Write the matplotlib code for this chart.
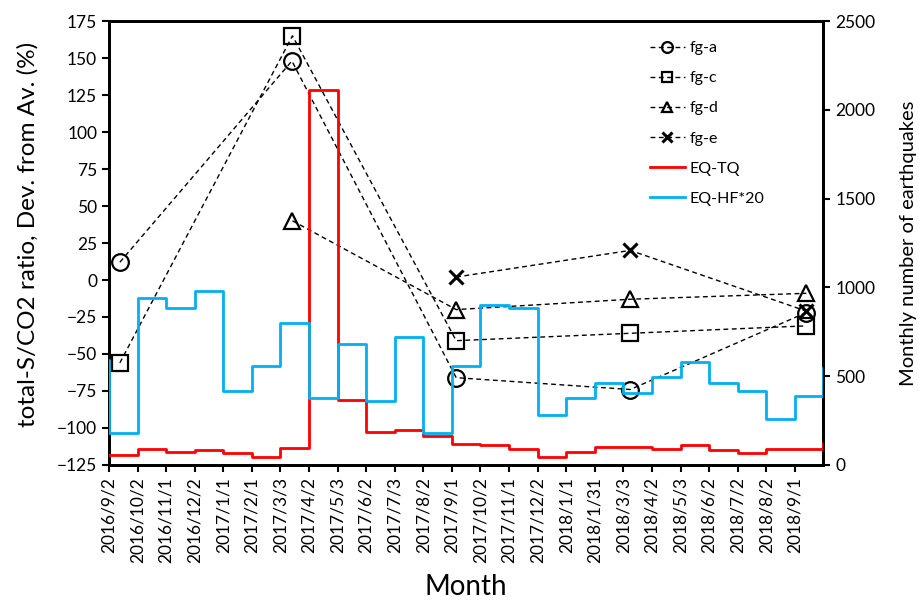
import numpy as np
import matplotlib
matplotlib.use("Agg")
import matplotlib.pyplot as plt

plt.rcParams['font.family'] = ['Lato', 'DejaVu Sans']

months = ["2016/9/2", "2016/10/2", "2016/11/1", "2016/12/2", "2017/1/1", "2017/2/1",
          "2017/3/3", "2017/4/2", "2017/5/3", "2017/6/2", "2017/7/3", "2017/8/2",
          "2017/9/1", "2017/10/2", "2017/11/1", "2017/12/2", "2018/1/1", "2018/1/31",
          "2018/3/3", "2018/4/2", "2018/5/3", "2018/6/2", "2018/7/2", "2018/8/2", "2018/9/1"]

# Monthly earthquake counts (right axis); values before/after the shown window are clipped
eq_tq_before = 56
eq_tq = [56, 88, 73, 84, 66, 43, 94, 2112, 366, 183, 195, 165, 119, 111, 88, 47,
         73, 103, 100, 92, 111, 84, 69, 88, 88]
eq_tq_after = 122
eq_hf20_before = 590
eq_hf20 = [178, 939, 882, 980, 418, 557, 798, 377, 680, 358, 721, 181, 559, 899, 886,
           280, 377, 460, 404, 497, 578, 460, 417, 259, 390]
eq_hf20_after = 545

# Sampling positions (in month units from 2016/9/2) and deviation values (left axis)
pos_a = [0.38, 6.4, 12.15, 18.24, 24.4]
fg_a = [12, 148, -66, -74, -22]
pos_c = [0.38, 6.42, 12.15, 18.24, 24.4]
fg_c = [-56, 165, -41, -36, -31]
pos_d = [6.42, 12.15, 18.24, 24.4]
fg_d = [40, -20, -13, -9]
pos_e = [12.15, 18.24, 24.4]
fg_e = [2, 20, -21]

fig = plt.figure(figsize=(9.19, 6.06), dpi=100)
ax = fig.add_axes([0.1186, 0.2327, 0.7774, 0.7326])
ax2 = ax.twinx()

dash = (0, (3.5, 2.5))
kw = dict(color='black', linestyle=dash, linewidth=1.0, markerfacecolor='none',
          markeredgecolor='black', markeredgewidth=1.6)
l1, = ax.plot(pos_a, fg_a, marker='o', markersize=12, label='fg-a', **kw)
l2, = ax.plot(pos_c, fg_c, marker='s', markersize=12, label='fg-c', **kw)
l3, = ax.plot(pos_d, fg_d, marker='^', markersize=12, label='fg-d', **kw)
kw_e = dict(kw)
kw_e['markeredgewidth'] = 2.2
l4, = ax.plot(pos_e, fg_e, marker='x', markersize=10, label='fg-e', **kw_e)

xs = np.arange(-1, len(months) + 1)
l5, = ax2.step(xs, [eq_tq_before] + eq_tq + [eq_tq_after], where='post',
               color='#ff0000', linewidth=2.0, label='EQ-TQ', zorder=3)
l6, = ax2.step(xs, [eq_hf20_before] + eq_hf20 + [eq_hf20_after], where='post',
               color='#00b0f0', linewidth=2.0, label='EQ-HF*20', zorder=3)

ax.set_xlim(0, len(months))
ax.set_ylim(-125, 175)
ax.set_yticks(np.arange(-125, 176, 25))
ax2.set_ylim(0, 2500)
ax2.set_yticks(np.arange(0, 2501, 500))
ax.set_xticks(np.arange(len(months)))
ax.set_xticklabels(months, rotation=90, fontsize=12.5)
ax.tick_params(axis='y', labelsize=12.5, direction='out', length=5, width=1.5)
ax.tick_params(axis='x', direction='out', length=5, width=1.5)
ax2.tick_params(axis='y', labelsize=12.5, direction='out', length=5, width=1.5)

for a in (ax, ax2):
    for s in a.spines.values():
        s.set_linewidth(2.0)

ax.set_ylabel('total-S/CO2 ratio, Dev. from Av. (%)', fontsize=17.5)
ax.yaxis.set_label_coords(-0.098, 0.52)
ax2.set_ylabel('Monthly number of earthquakes', fontsize=14.5, labelpad=18)
ax.set_xlabel('Month', fontsize=20, labelpad=8)

leg = ax2.legend(handles=[l1, l2, l3, l4, l5, l6], loc='upper left',
                 bbox_to_anchor=(0.757, 0.955), frameon=False, fontsize=11.5,
                 markerscale=0.65, handlelength=2.2, handletextpad=0.3,
                 labelspacing=1.0, borderpad=0, borderaxespad=0)

fig.savefig('out.png', dpi=100)
